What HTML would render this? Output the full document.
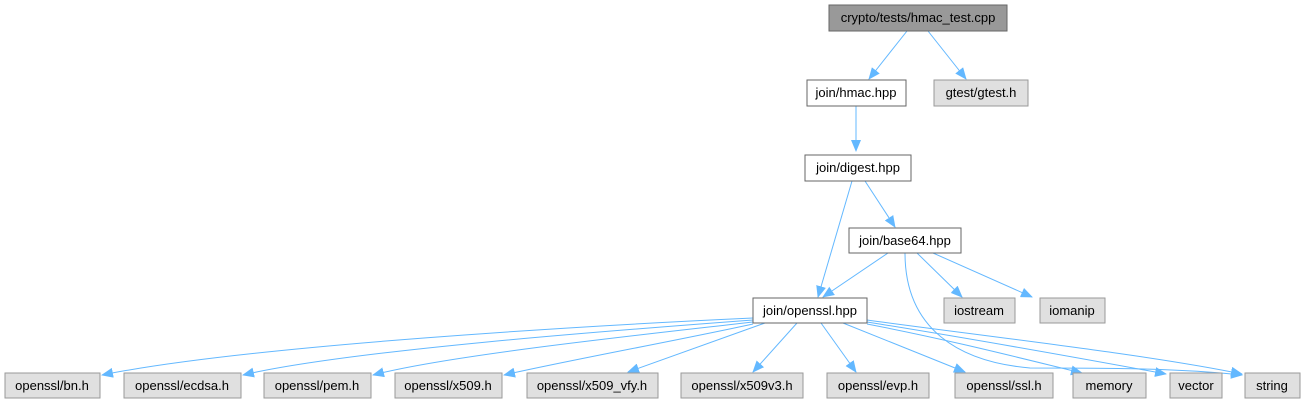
<!DOCTYPE html>
<html><head><meta charset="utf-8"><style>
html,body{margin:0;padding:0;background:#fff;}
svg{display:block;}
text{font-family:"Liberation Sans",Helvetica,sans-serif;font-size:13px;fill:#000;text-anchor:middle;}
.w{fill:#fff;stroke:#666;stroke-width:1;}
.g{fill:#e0e0e0;stroke:#999;stroke-width:1;}
.e{fill:none;stroke:#63b8ff;stroke-width:1;}
</style></head><body>
<svg width="1307" height="405" viewBox="0 0 1307 405" xmlns="http://www.w3.org/2000/svg">
<defs><marker id="m" markerWidth="12" markerHeight="10" refX="11" refY="5" orient="auto" markerUnits="userSpaceOnUse"><path d="M0,0 L12,5 L0,10 z" fill="#63b8ff"/></marker></defs>
<g class="e" marker-end="url(#m)">
<path d="M907,31 L869,79"/>
<path d="M928,31 L966,79"/>
<path d="M856,106 L856,151"/>
<path d="M852,181 L818,297"/>
<path d="M865,181 L895,227"/>
<path d="M888,253 L823,297"/>
<path d="M917,253 L962,297"/>
<path d="M933,253 L1032,297"/>
<path d="M753,318 C600,325 250,345 102,375"/>
<path d="M753,320 C620,330 350,350 243,375"/>
<path d="M753,322 C640,335 450,355 373,375"/>
<path d="M753,324 C680,340 570,360 504,375"/>
<path d="M765,323 L628,372"/>
<path d="M797,323 L753,372"/>
<path d="M821,323 L856,372"/>
<path d="M843,323 L965,372"/>
<path d="M867,324 C950,340 1020,358 1082,373"/>
<path d="M867,322 C980,340 1090,360 1166,374"/>
<path d="M867,320 C1000,338 1150,355 1242,374"/>
<path d="M905,253 C905,330 960,362 1030,368 C1100,368 1180,368 1242,375"/>
</g>
<rect x="829" y="5" width="178" height="26" fill="#999" stroke="#666"/>
<text x="918" y="22">crypto/tests/hmac_test.cpp</text>
<rect class="w" x="807" y="80" width="99" height="26"/><text x="856" y="97">join/hmac.hpp</text>
<rect class="g" x="934" y="80" width="94" height="26"/><text x="981" y="97">gtest/gtest.h</text>
<rect class="w" x="805" y="155" width="106" height="26"/><text x="858" y="172">join/digest.hpp</text>
<rect class="w" x="849" y="228" width="112" height="25"/><text x="905" y="245">join/base64.hpp</text>
<rect class="w" x="753" y="298" width="114" height="25"/><text x="810" y="315">join/openssl.hpp</text>
<rect class="g" x="944" y="298" width="71" height="25"/><text x="979" y="315">iostream</text>
<rect class="g" x="1040" y="298" width="65" height="25"/><text x="1072" y="315">iomanip</text>
<rect class="g" x="5" y="373" width="95" height="25"/><text x="52" y="390">openssl/bn.h</text>
<rect class="g" x="124" y="373" width="117" height="25"/><text x="182" y="390">openssl/ecdsa.h</text>
<rect class="g" x="264" y="373" width="107" height="25"/><text x="317" y="390">openssl/pem.h</text>
<rect class="g" x="395" y="373" width="107" height="25"/><text x="448" y="390">openssl/x509.h</text>
<rect class="g" x="527" y="373" width="131" height="25"/><text x="592" y="390">openssl/x509_vfy.h</text>
<rect class="g" x="681" y="373" width="122" height="25"/><text x="742" y="390">openssl/x509v3.h</text>
<rect class="g" x="827" y="373" width="102" height="25"/><text x="878" y="390">openssl/evp.h</text>
<rect class="g" x="955" y="373" width="98" height="25"/><text x="1004" y="390">openssl/ssl.h</text>
<rect class="g" x="1073" y="373" width="73" height="25"/><text x="1109" y="390">memory</text>
<rect class="g" x="1170" y="373" width="52" height="25"/><text x="1196" y="390">vector</text>
<rect class="g" x="1245" y="373" width="55" height="25"/><text x="1272" y="390">string</text>
</svg>
</body></html>
